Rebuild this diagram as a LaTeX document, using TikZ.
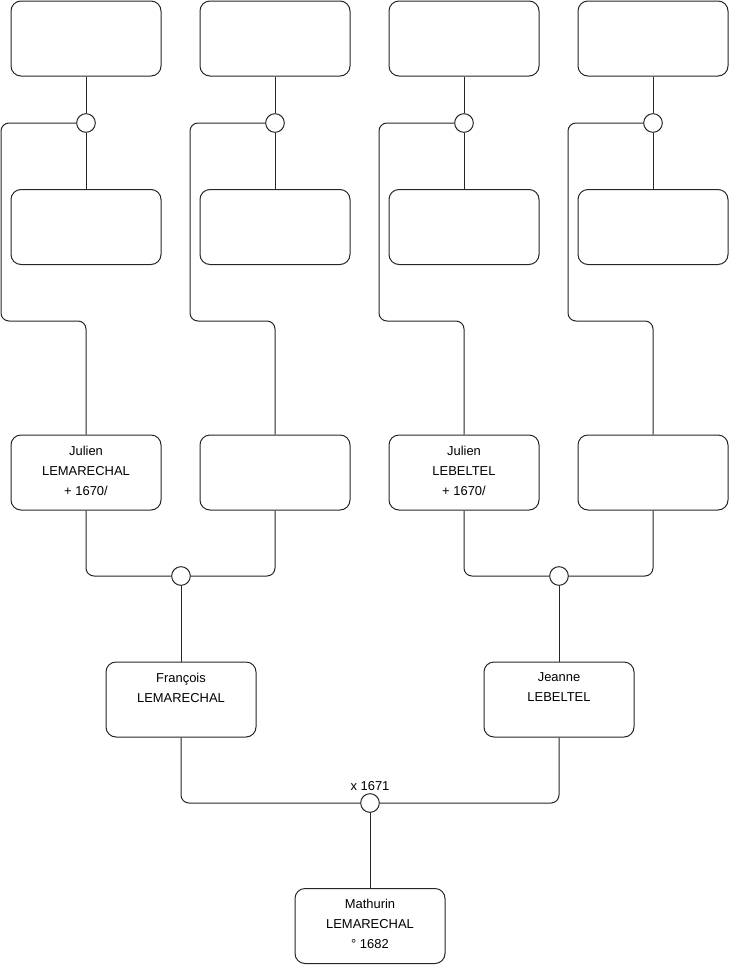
\documentclass[tikz,border=0pt]{standalone}
\usepackage{fontspec}
\setmainfont{Liberation Sans}
\usetikzlibrary{positioning}

\begin{document}
\begin{tikzpicture}[
  x=0.75pt,y=-0.75pt,
  person/.style={rectangle,rounded corners=7.5pt,draw=black!85,line width=0.75pt,
                 minimum width=112.5pt,minimum height=56.25pt},
  union/.style={circle,draw=black!85,fill=white,line width=0.75pt,
                minimum size=14pt,inner sep=0pt},
  conn/.style={draw=black!85,line width=0.75pt,rounded corners=6pt},
  txt/.style={anchor=north,inner sep=0pt,align=center,
              font=\fontsize{9.7}{15}\selectfont}
]
\useasboundingbox (0,0) rectangle (740,975);

% great-grandparents
\node[person] (a1) at (86,38.5) {};
\node[person] (a2) at (275,38.5) {};
\node[person] (a3) at (464,38.5) {};
\node[person] (a4) at (653,38.5) {};
\node[person] (b1) at (86,227) {};
\node[person] (b2) at (275,227) {};
\node[person] (b3) at (464,227) {};
\node[person] (b4) at (653,227) {};
\node[union] (u1) at (86,123) {};
\node[union] (u2) at (275,123) {};
\node[union] (u3) at (464,123) {};
\node[union] (u4) at (653,123) {};

% grandparents
\node[person] (julm) at (86,472.5) {};
\node[person] (c2) at (275,472.5) {};
\node[person] (julb) at (464,472.5) {};
\node[person] (c4) at (653,472.5) {};
\node[txt,yshift=-8.2pt] (julm-t) at (julm.north) {Julien\\LEMARECHAL\\+ 1670/};
\node[txt,yshift=-8.2pt] (julb-t) at (julb.north) {Julien\\LEBELTEL\\+ 1670/};
\node[union] (v1) at (181,576) {};
\node[union] (v2) at (559,576) {};

% parents
\node[person] (fra) at (181,699.5) {};
\node[person] (jea) at (559,699.5) {};
\node[txt,yshift=-8.2pt] (fra-t) at (fra.north) {François\\LEMARECHAL};
\node[txt,yshift=-8.2pt] (jea-t) at (jea.north) {Jeanne\\LEBELTEL};
\node[union] (w) at (370,803) {};
\node[above=1.5pt of w,inner sep=0pt,font=\fontsize{9.7}{11}\selectfont] (w-t) {x 1671};

% child
\node[person] (mat) at (370,926) {};
\node[txt,yshift=-8.2pt] (mat-t) at (mat.north) {Mathurin\\LEMARECHAL\\° 1682};

% links
\draw[conn] (a1) -- (u1) -- (b1);
\draw[conn] (a2) -- (u2) -- (b2);
\draw[conn] (a3) -- (u3) -- (b3);
\draw[conn] (a4) -- (u4) -- (b4);
\draw[conn] (u1.west) -| (1,321) -| (julm.north);
\draw[conn] (u2.west) -| (190,321) -| (c2.north);
\draw[conn] (u3.west) -| (379,321) -| (julb.north);
\draw[conn] (u4.west) -| (568,321) -| (c4.north);
\draw[conn] (julm.south) |- (v1.west);
\draw[conn] (c2.south) |- (v1.east);
\draw[conn] (julb.south) |- (v2.west);
\draw[conn] (c4.south) |- (v2.east);
\draw[conn] (v1) -- (fra);
\draw[conn] (v2) -- (jea);
\draw[conn] (fra.south) |- (w.west);
\draw[conn] (jea.south) |- (w.east);
\draw[conn] (w) -- (mat);
\end{tikzpicture}
\end{document}
